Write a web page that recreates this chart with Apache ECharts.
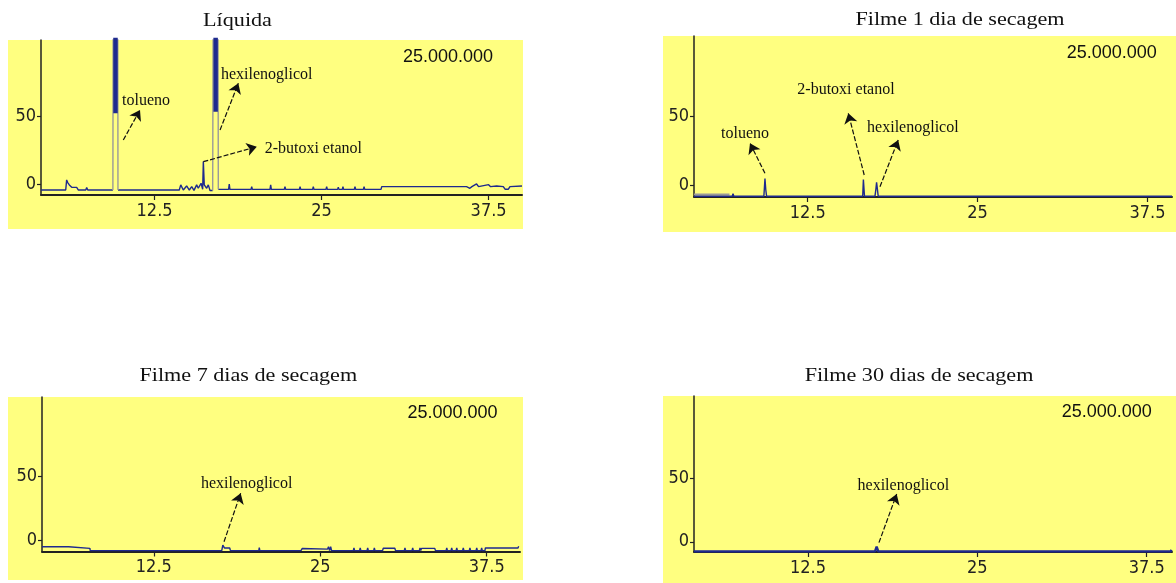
<!DOCTYPE html>
<html><head><meta charset="utf-8">
<script src="https://cdn.jsdelivr.net/npm/echarts@6/dist/echarts.min.js"></script>
<style>html,body{margin:0;padding:0;background:#fff}#c{width:1176px;height:583px}</style>
</head><body><div id="c"></div>
<script>
// ---------- texts ----------
const titulos = ['Líquida', 'Filme 1 dia de secagem', 'Filme 7 dias de secagem', 'Filme 30 dias de secagem'];
const escala = '25.000.000';
const xTicks = [12.5, 25, 37.5];
const yTicks = [0, 50];

// ---------- data (tempo de retenção, intensidade relativa) ----------
const liquidaLinha = [[4.0,-4.5],[5.85,-4.5],[5.92,3.0],[6.0,1.0],[6.12,-0.7],[6.3,-2.5],[6.67,-2.5],[6.8,-4.5],[7.35,-4.5],[7.42,-2.7],[7.5,-4.5],[9.38,-4.5],[9.57,'-'],[9.76,-4.5],[14.35,-4.5],[14.46,-0.7],[14.65,-4.5],[14.9,-1.5],[15.1,-4.5],[15.28,-2.0],[15.45,-4.8],[15.65,-0.7],[15.77,-3.2],[15.98,0.5],[16.1,-3.9],[16.15,16.6],[16.22,-0.7],[16.4,-3.2],[16.52,-0.7],[16.65,-4.8],[16.85,-4.8],[17.05,'-'],[17.27,-4.0],[18.04,-4.0],[18.09,0],[18.14,-4.0],[19.72,-4.0],[19.77,-2.0],[19.82,-4.0],[21.14,-4.0],[21.19,-0.7],[21.24,-4.0],[22.21,-4.0],[22.26,-2.0],[22.31,-4.0],[23.34,-4.0],[23.39,-2.0],[23.44,-4.0],[24.33,-4.0],[24.38,-2.0],[24.43,-4.0],[25.33,-4.0],[25.38,-2.0],[25.43,-4.0],[26.2,-4.0],[26.25,-2.5],[26.3,-4.0],[26.55,-4.0],[26.6,-2.0],[26.65,-4.0],[27.45,-4.0],[27.5,-2.0],[27.55,-4.0],[28.13,-4.0],[28.18,-2.0],[28.23,-4.0],[29.45,-4.0],[29.5,-2.0],[35.6,-2.0],[35.7,-0.7],[35.85,-2.0],[36.1,-3.2],[36.25,-2.0],[36.6,0],[36.75,-2.0],[37.5,-0.5],[37.65,-2.0],[38.1,-1.5],[38.6,-2.0],[38.73,-3.9],[38.98,-3.9],[39.1,-2.0],[39.2,-1.2],[40.0,-1.5]];
const liquidaPicos = [[9.38,-4.5],[9.41,200],[9.74,200],[9.76,-4.5],[13,'-'],[16.85,-4.8],[16.9,200],[17.24,200],[17.27,-4.0]];
const liquidaTopo = [[9.575,52.5],[9.575,200],[13,'-'],[17.07,53.7],[17.07,200]];

const filme1Linha = [[4.14,-8.3],[6.95,-8.3],[7.01,-6.3],[7.07,-8.3],[9.28,-8.3],[9.36,4.7],[9.42,-3.5],[9.48,-8.3],[16.55,-8.3],[16.6,4.0],[16.68,-8.3],[17.45,-8.3],[17.52,-3.0],[17.57,2.0],[17.63,-3.0],[17.69,-8.3],[39.1,-8.3],[39.15,-7.0],[39.2,-8.3],[39.3,-8.3]];
const filme1Cinza = [[4.14,-7.0],[6.75,-7.0]];

const filme7Linha = [[4.1,-5.3],[6.1,-5.3],[6.12,-6.6],[7.7,-6.6],[7.72,-8.4],[17.6,-8.4],[17.68,-4.0],[17.8,-6.3],[18.2,-6.3],[18.25,-8.4],[20.38,-8.4],[20.42,-6.1],[20.46,-8.4],[23.55,-8.4],[23.65,-6.7],[25.55,-7.2],[25.62,-5.3],[25.7,-8.4],[25.78,-5.3],[25.85,-8.4],
 [27.48,-8.4],[27.53,-6.3],[27.58,-8.4],[27.95,-8.4],[28.0,-6.3],[28.05,-8.4],[28.51,-8.4],[28.56,-6.3],[28.61,-8.4],[29.01,-8.4],[29.06,-6.3],[29.11,-8.4],
 [29.68,-8.4],[29.73,-6.5],[30.6,-6.5],[30.65,-8.4],[31.31,-8.4],[31.36,-6.3],[31.41,-8.4],[31.89,-8.4],[31.94,-6.3],[31.99,-8.4],[32.44,-8.4],[32.49,-6.3],[32.55,-8.4],
 [32.6,-6.6],[33.6,-6.6],[33.65,-8.4],[34.45,-8.4],[34.5,-6.3],[34.55,-8.4],[34.82,-8.4],[34.87,-6.3],[34.92,-8.4],[35.2,-8.4],[35.25,-6.3],[35.3,-8.4],[35.69,-8.4],[35.74,-6.3],[35.79,-8.4],
 [36.19,-8.4],[36.24,-6.3],[36.29,-8.4],[36.7,-8.4],[36.75,-6.3],[36.8,-8.4],[37.07,-8.4],[37.12,-6.3],[37.17,-8.4],[37.37,-8.4],[37.4,-6.3],[39.85,-6.3],[39.9,-5.0],[39.95,-6.3],[40.0,-6.3]];

const filme30Linha = [[4.09,-7.5],[9.28,-7.5],[9.33,-6.5],[9.38,-7.5],[16.5,-7.5],[16.58,-6.3],[16.66,-7.5],[17.45,-7.5],[17.57,-3.9],[17.69,-7.5],[31.56,-7.5],[31.64,-6.3],[31.72,-7.5],[35.72,-7.5],[35.77,-6.8],[35.82,-7.5],[37.12,-7.5],[37.2,-6.3],[37.28,-7.5],[38.9,-7.5],[38.97,-6.3],[39.04,-7.5],[39.27,-7.5],[39.34,-6.3],[39.37,-7.5]];

// ---------- annotations (data units) ----------
const rotulosLiquida = [
  {texto:'tolueno', pos:[11.86,61.8], seta:[[10.16,32.7],[11.41,55.0]]},
  {texto:'hexilenoglicol', pos:[20.89,81.0], seta:[[17.4,40.1],[18.77,74.8]]},
  {texto:'2-butoxi etanol', pos:[24.38,26.5], seta:[[16.15,16.55],[20.15,27.7]]}
];
const rotulosFilme1 = [
  {texto:'tolueno', pos:[7.89,37.8], seta:[[9.36,8.5],[8.26,30.5]]},
  {texto:'2-butoxi etanol', pos:[15.32,69.5], seta:[[16.66,7.3],[15.49,52.4]]},
  {texto:'hexilenoglicol', pos:[20.24,41.5], seta:[[17.82,-1.3],[19.16,32.9]]}
];
const rotulosFilme7 = [
  {texto:'hexilenoglicol', pos:[19.47,44.8], seta:[[17.77,-1.35],[19.02,36.9]]}
];
const rotulosFilme30 = [
  {texto:'hexilenoglicol', pos:[19.54,43.6], seta:[[17.74,-0.7],[19.05,37.3]]}
];

// ---------- layout ----------
const paineis = [
  {bg:[8,40,515,189], grid:{left:41,top:40,width:481,height:155}, x:[4,40], y:[-8.2,107], titulo:[237.5,21], escala:[448,57],
   linha:liquidaLinha, picos:liquidaPicos, topo:liquidaTopo, rotulos:rotulosLiquida},
  {bg:[663,36,513,196], grid:{left:694,top:36,width:478,height:161}, x:[4.14,39.3], y:[-8.8,109], titulo:[960,20], escala:[1111.7,53.5],
   linha:filme1Linha, cinza:filme1Cinza, rotulos:rotulosFilme1},
  {bg:[8,397,515,183], grid:{left:42,top:397,width:478,height:154.5}, x:[4.1,40], y:[-9.1,113], titulo:[248.3,376], escala:[452.5,413.5],
   linha:filme7Linha, rotulos:rotulosFilme7},
  {bg:[663,396,513,187], grid:{left:694,top:396,width:478,height:156}, x:[4.09,39.37], y:[-8,114], titulo:[919,376.5], escala:[1106.7,412],
   linha:filme30Linha, rotulos:rotulosFilme30, grossa:true}
];

const AZUL = '#1e2a8e';
const grids = [], xAxes = [], yAxes = [], series = [], graphics = [];

paineis.forEach((p, i) => {
  graphics.push({type:'rect', z:-100, shape:{x:p.bg[0], y:p.bg[1], width:p.bg[2], height:p.bg[3]}, style:{fill:'#ffff80'}, silent:true});
  graphics.push({type:'text', x:p.titulo[0], y:p.titulo[1], scaleX:1.23, style:{text:titulos[i], font:'18px "Liberation Serif"', fill:'#111', textAlign:'center', textVerticalAlign:'middle'}, silent:true});
  graphics.push({type:'text', x:p.escala[0], y:p.escala[1], style:{text:escala, font:'18px "Liberation Sans"', fill:'#111', textAlign:'center', textVerticalAlign:'middle'}, silent:true});

  grids.push(Object.assign({containLabel:false}, p.grid));
  xAxes.push({type:'value', gridIndex:i, min:p.x[0], max:p.x[1],
    axisLine:{onZero:false, lineStyle:{color:'#222', width:2}},
    axisTick:{show:true, customValues:xTicks, length:5, lineStyle:{color:'#222', width:1.2}},
    axisLabel:{customValues:xTicks, margin:7, color:'#222', fontFamily:'"Liberation Sans Narrow","DejaVu Sans Condensed",sans-serif', fontSize:18},
    splitLine:{show:false}});
  yAxes.push({type:'value', gridIndex:i, min:p.y[0], max:p.y[1],
    axisLine:{show:true, onZero:false, lineStyle:{color:'#222', width:1.5}},
    axisTick:{show:true, customValues:yTicks, length:4, lineStyle:{color:'#222', width:1.2}},
    axisLabel:{customValues:yTicks, margin:5, color:'#222', fontFamily:'"Liberation Sans Narrow","DejaVu Sans Condensed",sans-serif', fontSize:18},
    splitLine:{show:false}});

  if (p.cinza) series.push({type:'line', xAxisIndex:i, yAxisIndex:i, data:p.cinza, symbol:'none', lineStyle:{color:'#9a9a9a', width:2}, z:1});
  series.push({type:'line', xAxisIndex:i, yAxisIndex:i, data:p.linha, symbol:'none', clip:true,
    lineStyle:{color:AZUL, width:p.grossa ? 2.4 : 1.4}, z:2,
    markLine:{silent:true, symbol:['none','arrow'], symbolSize:10, label:{show:false},
      lineStyle:{color:'#111', width:1.2, type:[5,2]},
      data:p.rotulos.map(r => [{coord:r.seta[0]}, {coord:r.seta[1]}])},
    markPoint:{silent:true, symbol:'rect', symbolSize:1, itemStyle:{color:'rgba(0,0,0,0)'},
      label:{show:true, position:'inside', color:'#111', fontFamily:'"Liberation Serif"', fontSize:16, formatter:q => q.name},
      data:p.rotulos.map(r => ({name:r.texto, coord:r.pos}))}
  });
  if (p.picos) series.push({type:'line', xAxisIndex:i, yAxisIndex:i, data:p.picos, symbol:'none', clip:true, lineStyle:{color:'#9a9a9a', width:1.4}, z:3});
  if (p.topo) series.push({type:'line', xAxisIndex:i, yAxisIndex:i, data:p.topo, symbol:'none', clip:true, lineStyle:{color:AZUL, width:4.5}, z:4});
});

const chart = echarts.init(document.getElementById('c'), null, {renderer:'canvas'});
chart.setOption({animation:false, grid:grids, xAxis:xAxes, yAxis:yAxes, series:series, graphic:{elements:graphics}});
</script></body></html>
